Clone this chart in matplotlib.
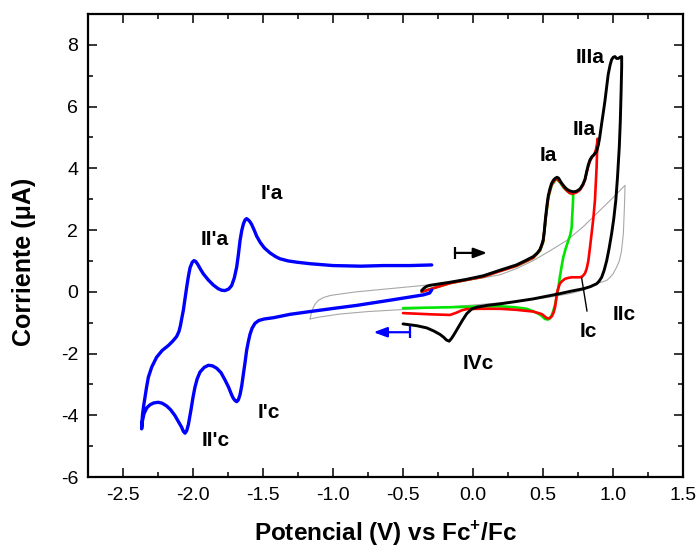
import matplotlib
matplotlib.use("Agg")
import matplotlib.pyplot as plt
from matplotlib.ticker import MultipleLocator

plt.rcParams['font.family'] = ['Liberation Sans', 'DejaVu Sans']
plt.rcParams['mathtext.fontset'] = 'custom'
plt.rcParams['mathtext.rm'] = 'Liberation Sans'
plt.rcParams['mathtext.bf'] = 'Liberation Sans:bold'

# ---- data (E in V vs Fc+/Fc, I in uA) ----
blue_x = [-0.295, -0.31, -0.355, -0.59, -0.83, -1.0, -1.164, -1.307, -1.426, -1.49, -1.53, -1.557,
          -1.578, -1.593, -1.605, -1.617, -1.628, -1.64, -1.652, -1.664, -1.676, -1.688, -1.70, -1.712,
          -1.724, -1.745, -1.771, -1.80, -1.83, -1.86, -1.89, -1.92, -1.95, -1.97, -1.986, -2.0,
          -2.015, -2.033, -2.045, -2.057, -2.069, -2.081, -2.105, -2.129, -2.16, -2.188, -2.22, -2.248,
          -2.28, -2.307, -2.33, -2.35, -2.362, -2.367,
          -2.364, -2.36, -2.352, -2.343, -2.332, -2.319, -2.295, -2.26, -2.22, -2.176, -2.145, -2.117,
          -2.10, -2.09, -2.081, -2.069, -2.057, -2.045, -2.033, -2.021, -2.005, -1.993, -1.98, -1.965,
          -1.945, -1.926, -1.89, -1.855, -1.82, -1.795, -1.771, -1.745, -1.724, -1.705, -1.688, -1.676,
          -1.664, -1.652, -1.64, -1.628, -1.617, -1.605, -1.593, -1.581, -1.563, -1.545, -1.52, -1.49,
          -1.45, -1.41, -1.379, -1.32, -1.26, -1.164, -1.0, -0.8, -0.64, -0.45, -0.295]
blue_y = [0.06, -0.04, -0.1, -0.27, -0.44, -0.54, -0.64, -0.73, -0.84, -0.88, -0.93, -1.02,
          -1.18, -1.38, -1.62, -1.9, -2.28, -2.66, -3.05, -3.33, -3.5, -3.56, -3.52, -3.45,
          -3.34, -3.1, -2.86, -2.62, -2.48, -2.4, -2.38, -2.45, -2.6, -2.82, -3.09, -3.42,
          -3.84, -4.3, -4.5, -4.58, -4.52, -4.39, -4.2, -4.01, -3.82, -3.7, -3.61, -3.58,
          -3.6, -3.66, -3.76, -3.95, -4.2, -4.44,
          -4.2, -3.95, -3.68, -3.42, -3.1, -2.77, -2.44, -2.12, -1.9, -1.74, -1.6, -1.45,
          -1.28, -1.1, -0.88, -0.6, -0.22, 0.15, 0.5, 0.78, 0.96, 1.01, 0.98, 0.88,
          0.72, 0.58, 0.38, 0.22, 0.1, 0.05, 0.04, 0.09, 0.2, 0.45, 0.8, 1.2,
          1.66, 1.98, 2.2, 2.33, 2.37, 2.33, 2.27, 2.18, 2.0, 1.8, 1.6, 1.42,
          1.26, 1.14, 1.07, 1.0, 0.96, 0.91, 0.85, 0.83, 0.85, 0.85, 0.87]

black_x = [-0.367, -0.35, -0.33, -0.307, -0.236, -0.164, -0.05, 0.074, 0.193, 0.31, 0.37, 0.43,
           0.46, 0.479, 0.493, 0.502, 0.51, 0.518, 0.528, 0.538, 0.55, 0.562, 0.575, 0.588,
           0.6, 0.612, 0.622, 0.633, 0.65, 0.669, 0.69, 0.716, 0.74, 0.764, 0.785, 0.8,
           0.812, 0.824, 0.836, 0.85, 0.866, 0.883, 0.895, 0.905, 0.919, 0.932, 0.943, 0.955,
           0.966, 0.979, 0.99, 1.002, 1.014, 1.026, 1.038, 1.05, 1.062, 1.062, 1.058, 1.052,
           1.045, 1.032, 1.02, 1.005, 0.99, 0.972, 0.955, 0.937, 0.919, 0.9, 0.883, 0.84,
           0.79, 0.7, 0.62, 0.53, 0.43, 0.3, 0.193, 0.1, 0.026, -0.01, -0.045, -0.075,
           -0.105, -0.135, -0.152, -0.17, -0.19, -0.21, -0.236, -0.28, -0.33, -0.4, -0.5]
black_y = [0.04, 0.12, 0.18, 0.21, 0.26, 0.31, 0.4, 0.52, 0.7, 0.87, 1.0, 1.14,
           1.26, 1.38, 1.55, 1.7, 2.0, 2.4, 2.8, 3.12, 3.35, 3.52, 3.62, 3.68,
           3.71, 3.68, 3.6, 3.52, 3.42, 3.33, 3.27, 3.24, 3.26, 3.33, 3.48, 3.65,
           3.9, 4.12, 4.28, 4.38, 4.45, 4.55, 4.75, 5.0, 5.45, 5.85, 6.2, 6.65,
           7.05, 7.34, 7.52, 7.6, 7.62, 7.56, 7.56, 7.6, 7.62, 7.3, 6.5, 5.5,
           4.7, 3.7, 2.96, 2.35, 1.88, 1.4, 1.01, 0.7, 0.47, 0.34, 0.26, 0.17,
           0.1, 0.02, -0.06, -0.14, -0.23, -0.32, -0.39, -0.44, -0.5, -0.56, -0.71, -0.92,
           -1.15, -1.38, -1.5, -1.6, -1.56, -1.47, -1.38, -1.27, -1.17, -1.1, -1.04]

red_x = [-0.367, -0.164, 0.074, 0.193, 0.31, 0.43, 0.479, 0.502, 0.518, 0.538, 0.562, 0.588,
         0.6, 0.622, 0.65, 0.669, 0.69, 0.716, 0.74, 0.764, 0.785, 0.8, 0.812, 0.824,
         0.836, 0.85, 0.866, 0.878, 0.886, 0.89, 0.886, 0.883, 0.877, 0.871, 0.86, 0.847,
         0.836, 0.824, 0.812, 0.8, 0.782, 0.764, 0.735, 0.705, 0.68, 0.657, 0.635, 0.62,
         0.608, 0.598, 0.592, 0.586, 0.575, 0.562, 0.545, 0.526, 0.505, 0.49, 0.43, 0.3,
         0.19, 0.05, -0.045, -0.08, -0.12, -0.164, -0.3, -0.5]
red_y = [0.0, 0.28, 0.49, 0.67, 0.84, 1.1, 1.35, 1.65, 2.35, 3.08, 3.48, 3.64,
         3.66, 3.56, 3.38, 3.28, 3.2, 3.18, 3.22, 3.3, 3.45, 3.62, 3.86, 4.08,
         4.24, 4.36, 4.45, 4.6, 4.8, 4.96, 4.5, 4.04, 3.5, 2.96, 2.4, 1.88,
         1.45, 1.01, 0.75, 0.6, 0.5, 0.47, 0.47, 0.47, 0.45, 0.42, 0.34, 0.26,
         0.1, -0.06, -0.3, -0.5, -0.68, -0.8, -0.86, -0.85, -0.77, -0.72, -0.64, -0.58,
         -0.55, -0.55, -0.56, -0.6, -0.68, -0.75, -0.73, -0.69]

green_x = [-0.367, -0.164, 0.074, 0.193, 0.31, 0.43, 0.479, 0.502, 0.518, 0.538, 0.562, 0.588,
           0.6, 0.622, 0.65, 0.68, 0.705, 0.716, 0.713, 0.708, 0.705, 0.695, 0.681, 0.662,
           0.645, 0.632, 0.62, 0.61, 0.598, 0.586, 0.574, 0.562, 0.55, 0.535, 0.514, 0.49,
           0.467, 0.43, 0.383, 0.3, 0.193, 0.0, -0.164, -0.5]
green_y = [0.0, 0.28, 0.49, 0.68, 0.84, 1.1, 1.33, 1.62, 2.3, 3.05, 3.45, 3.62,
           3.64, 3.54, 3.36, 3.24, 3.17, 3.14, 2.8, 2.4, 2.09, 1.85, 1.66, 1.4,
           1.12, 0.8, 0.47, 0.15, -0.17, -0.42, -0.61, -0.76, -0.86, -0.9, -0.88, -0.78,
           -0.71, -0.63, -0.55, -0.5, -0.47, -0.48, -0.5, -0.53]

gray_x = [-1.164, -1.155, -1.14, -1.125, -1.105, -1.07, -1.02, -0.93, -0.83, -0.6, -0.367, -0.2,
          -0.045, 0.07, 0.193, 0.31, 0.43, 0.55, 0.669, 0.79, 0.907, 1.0, 1.086, 1.082,
          1.074, 1.06, 1.045, 1.026, 1.0, 0.975, 0.955, 0.91, 0.86, 0.79, 0.7, 0.55,
          0.4, 0.19, 0.0, -0.283, -0.52, -0.75, -0.95, -1.1, -1.164]
gray_y = [-0.88, -0.7, -0.5, -0.38, -0.28, -0.19, -0.12, -0.06, 0.0, 0.1, 0.2, 0.28,
          0.37, 0.45, 0.55, 0.75, 1.01, 1.33, 1.66, 2.12, 2.64, 3.05, 3.45, 2.8,
          1.88, 1.3, 1.0, 0.8, 0.58, 0.45, 0.37, 0.3, 0.24, 0.06, -0.05, -0.17,
          -0.26, -0.36, -0.43, -0.52, -0.58, -0.64, -0.72, -0.82, -0.88]

labels = ["I'a", "II'a", "I'c", "II'c", "Ia", "IIa", "IIIa", "IVc", "Ic", "IIc"]
label_x = [-1.438, -1.848, -1.456, -1.836, 0.538, 0.791, 0.836, 0.038, 0.824, 1.08]
label_y = [3.18, 1.70, -3.91, -4.82, 4.42, 5.25, 7.6, -2.33, -1.28, -0.74]

# pointer line from the Ic label to the curve
ic_line_x = [0.776, 0.814]
ic_line_y = [0.45, -0.62]

# scan-direction arrows: (start, end, level)
arrow_black = (-0.13, 0.10, 1.26)
arrow_blue = (-0.45, -0.71, -1.31)

xticks = [-2.5, -2.0, -1.5, -1.0, -0.5, 0.0, 0.5, 1.0, 1.5]
yticks = [-6, -4, -2, 0, 2, 4, 6, 8]

# ---- figure ----
fig = plt.figure(figsize=(6.97, 5.48), dpi=100)
ax = fig.add_axes([88/697, 1-477/548, (683-88)/697, (477-14)/548])

kw = dict(solid_joinstyle='round', solid_capstyle='round')
ax.plot(gray_x, gray_y, color='#a8a8a8', lw=0.8, **kw)
ax.plot(green_x, green_y, color='#00e600', lw=1.9, **kw)
ax.plot(red_x, red_y, color='#ff0000', lw=1.9, **kw)
ax.plot(black_x, black_y, color='black', lw=2.1, **kw)
ax.plot(blue_x, blue_y, color='#0000ff', lw=2.4, **kw)

ax.plot(ic_line_x, ic_line_y, color='black', lw=1.0)

for (x0, x1, yy), c in ((arrow_black, 'black'), (arrow_blue, '#0000ff')):
    ax.annotate('', xy=(x1, yy), xytext=(x0, yy),
                arrowprops=dict(arrowstyle='-|>,head_length=0.8,head_width=0.3',
                                color=c, lw=1.6, shrinkA=0, shrinkB=0))
    ax.plot([x0], [yy], marker='|', ms=9, mew=1.6, color=c)

for t, x, y in zip(labels, label_x, label_y):
    ax.text(x, y, t, fontsize=15, fontweight='bold', ha='center', va='center')

ax.set_xlim(-2.75, 1.5)
ax.set_ylim(-6, 9)
ax.set_xticks(xticks)
ax.set_yticks(yticks)
ax.set_xticklabels([f"{v:.1f}" for v in xticks])
ax.set_yticklabels([f"{v:d}" for v in yticks])
ax.xaxis.set_minor_locator(MultipleLocator(0.25))
ax.yaxis.set_minor_locator(MultipleLocator(1))
ax.tick_params(which='both', direction='in', top=True, right=True, width=1.1)
ax.tick_params(which='major', length=6.5, labelsize=14, pad=7)
ax.tick_params(which='minor', length=3.5)
for s in ax.spines.values():
    s.set_linewidth(1.6)

ax.set_xlabel(r"Potencial (V) vs Fc$^{\mathbf{+}}$/Fc", fontsize=17.5, fontweight='bold', labelpad=11)
ax.set_ylabel("Corriente (\u03bcA)", fontsize=18, fontweight='bold')
ax.yaxis.set_label_coords(-0.0874, 0.464)

fig.savefig("out.png", dpi=100)
